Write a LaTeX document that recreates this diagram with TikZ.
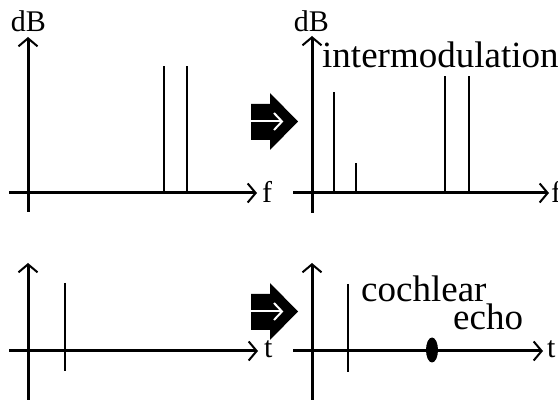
\documentclass[tikz,border=0pt]{standalone}
\usepackage{fontspec}
\setmainfont{Liberation Serif}
\usetikzlibrary{arrows.meta}

\begin{document}
\begin{tikzpicture}[x=1pt, y=-1pt,
    axis/.style={line width=3pt, -{Straight Barb[length=8pt, width=19pt, line width=2pt]}},
    spike/.style={line width=2pt},
    thinspike/.style={line width=1.1pt},
    small/.style={font=\fontsize{30}{32}\selectfont, inner sep=0pt},
    big/.style={font=\fontsize{37}{40}\selectfont, inner sep=0pt}]
      \useasboundingbox (0,0) rectangle (558,401);

      % Axes (top: spectra, bottom: time)
      \coordinate (f1o) at (9,193);   \coordinate (f1e) at (257,193);
      \coordinate (d1o) at (28,212);  \coordinate (d1e) at (28,37);
      \coordinate (f2o) at (293,193); \coordinate (f2e) at (549,193);
      \coordinate (d2o) at (312,213); \coordinate (d2e) at (312,36);
      \coordinate (t1o) at (9,351);   \coordinate (t1e) at (258,351);
      \coordinate (a1o) at (28,400);  \coordinate (a1e) at (28,263);
      \coordinate (t2o) at (293,351); \coordinate (t2e) at (543,351);
      \coordinate (a2o) at (312,400); \coordinate (a2e) at (312,263);
      \draw[axis] (f1o) -- (f1e);
      \draw[axis] (d1o) -- (d1e);
      \draw[axis] (f2o) -- (f2e);
      \draw[axis] (d2o) -- (d2e);
      \draw[axis] (t1o) -- (t1e);
      \draw[axis] (a1o) -- (a1e);
      \draw[axis] (t2o) -- (t2e);
      \draw[axis] (a2o) -- (a2e);

      % Axis labels
      \node[small, anchor=base] (db1) at (28.5,32) {dB};
      \node[small, anchor=base] (db2) at (311.5,32) {dB};
      \node[small, anchor=base west] (f1) at (262,203) {f};
      \node[small, anchor=base west] (f2) at (551,203) {f};
      \node[small, anchor=base west] (t1) at (264,358) {t};
      \node[small, anchor=base west] (t2) at (547,358) {t};

      % Spectral lines
      \draw[spike] (164,193) -- (164,66);
      \draw[spike] (187,193) -- (187,66);
      \draw[spike] (334,193) -- (334,92);
      \draw[spike] (356,193) -- (356,163);
      \draw[spike] (445,193) -- (445,76);
      \draw[spike] (469,193) -- (469,76);

      % Clicks and echo
      \draw[thinspike] (65,283) -- (65,371);
      \fill (65,351) circle (1.8pt);
      \draw[thinspike] (348,284) -- (348,372);
      \fill (432,350) ellipse [x radius=6pt, y radius=12.5pt];

      % Texts
      \node[big, anchor=base west] (inter) at (322,68) {intermodulation};
      \node[big, anchor=base west] (coch) at (361,302) {cochlear};
      \node[big, anchor=base west] (echo) at (453,330) {echo};

      % Big arrows
      \fill (251,104) -- (270,104) -- (270,93) -- (298,121.5) -- (270,150) -- (270,140) -- (251,140) -- cycle;
      \draw[white, line width=2pt] (251,121.5) -- (281,121.5);
      \draw[white, line width=2pt] (274,113) -- (282,121.5) -- (274,130);
      \fill (251,294) -- (270,294) -- (270,283) -- (298,311.5) -- (270,340) -- (270,330) -- (251,330) -- cycle;
      \draw[white, line width=2pt] (251,311.5) -- (281,311.5);
      \draw[white, line width=2pt] (274,303) -- (282,311.5) -- (274,320);
    \end{tikzpicture}
\end{document}
